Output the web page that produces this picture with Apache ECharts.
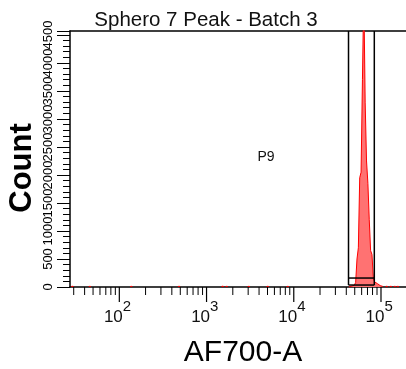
<!DOCTYPE html>
<html><head><meta charset="utf-8">
<script src="https://cdn.jsdelivr.net/npm/echarts@6/dist/echarts.min.js"></script>
<style>html,body{margin:0;padding:0;background:#fff}#c{width:406px;height:369px}</style>
</head><body><div id="c"></div>
<script>
// ---- data ----
const titleText = 'Sphero 7 Peak - Batch 3';
const xTitle = 'AF700-A';
const yTitle = 'Count';
const gateName = 'P9';
// peak histogram bin edges (AF700-A) and counts
const binEdges = [42760,44330,45950,47630,49380,51190,53060,55010,57020,59110,61280,63520,65850,68260,70760,73360,76050,78830,81720,84710,87820,91040,94370,97830,101410,105130];
const binCounts = [10,15,20,30,45,80,500,700,1950,2050,3700,5300,3300,2250,1850,1200,650,580,150,90,60,40,25,15,10];
// scattered low-count events
const lowEventX = [28.5,45,135,475,1500,1670,2990,4930,8370,114000,127000,141000,153000];
const lowEventCounts = [3,2,2,3,4,2,2,3,2,3,3,2,2];
// x axis ticks
const xMajorTicks = [100,1000,10000,100000];
const xMajorExp = ['2','3','4','5'];
const xMinorTicks = [30,40,50,60,70,80,90,200,300,400,500,600,700,800,900,2000,3000,4000,5000,6000,7000,8000,9000,20000,30000,40000,50000,60000,70000,80000,90000];
// y axis
const yMin = 0, yMax = 4570, yStep = 500;
// gate P9
const gateLo = 42420, gateHi = 83800, gateBottom = 35, gateMid = 160;
const xMin = 27.2, xMax = 193500;

const binRatio = 1.0366;
const FONT = '"Liberation Sans", Arial, sans-serif';

// step outline points for the peak
const peakPts = [[binEdges[0], 0]];
for (let i = 0; i < binCounts.length; i++) peakPts.push([binEdges[i], binCounts[i]]);
peakPts.push([binEdges[binEdges.length - 1], binCounts[binCounts.length - 1]]);
peakPts.push([binEdges[binEdges.length - 1], 0]);

const lowBins = lowEventX.map((x, i) => [x, x * binRatio, lowEventCounts[i]]);

const axisBase = {
  type: 'log', min: xMin, max: xMax, logBase: 10,
  axisTick: {show: false}, axisLabel: {show: false}, splitLine: {show: false}, minorTick: {show: false}
};

const chart = echarts.init(document.getElementById('c'), null, {renderer: 'canvas'});
chart.setOption({
  animation: false,
  backgroundColor: '#fff',
  grid: {left: 70, top: 31, bottom: 82, right: 0, show: false},
  xAxis: [
    Object.assign({}, axisBase, {position: 'bottom', axisLine: {show: true, lineStyle: {color: '#000', width: 1.5}}}),
    Object.assign({}, axisBase, {position: 'top', axisLine: {show: true, lineStyle: {color: '#000', width: 1.5}}})
  ],
  yAxis: {
    type: 'value', min: yMin, max: yMax, interval: yStep,
    axisLine: {show: true, lineStyle: {color: '#000', width: 1.5}},
    axisTick: {show: true, length: 13, lineStyle: {color: '#000', width: 1}},
    minorTick: {show: true, splitNumber: 5, length: 7, lineStyle: {color: '#000', width: 1}},
    splitLine: {show: false}, minorSplitLine: {show: false},
    axisLabel: {show: true, rotate: 90, margin: 15, fontSize: 13, fontFamily: FONT, color: '#000',
      formatter: v => (v % yStep === 0 ? String(v) : '')}
  },
  series: [
    {
      type: 'line', step: 'end', clip: true, z: 3,
      data: peakPts, symbol: 'none',
      lineStyle: {color: '#ff0000', width: 1},
      areaStyle: {color: '#ff7272', opacity: 1}
    },
    {
      type: 'custom', clip: true, z: 3,
      data: lowBins,
      encode: {x: [0, 1], y: 2},
      renderItem(params, api) {
        const p0 = api.coord([api.value(0), 0]);
        const p1 = api.coord([api.value(1), api.value(2)]);
        return {type: 'rect', shape: {x: p0[0], y: p1[1] - 0.5, width: p1[0] - p0[0], height: p0[1] - p1[1] + 0.5},
          style: {fill: '#ff0000', stroke: '#ff0000', lineWidth: 1}};
      }
    },
    {
      type: 'custom', clip: false, z: 4,
      data: [[gateLo, gateHi]],
      encode: {x: [0, 1]},
      renderItem(params, api) {
        const a = api.coord([api.value(0), gateBottom]);
        const b = api.coord([api.value(1), yMax]);
        const m = api.coord([api.value(0), gateMid]);
        const ls = {stroke: '#000', lineWidth: 1.5};
        return {type: 'group', children: [
          {type: 'line', shape: {x1: a[0], y1: a[1], x2: a[0], y2: b[1]}, style: ls},
          {type: 'line', shape: {x1: b[0], y1: a[1], x2: b[0], y2: b[1]}, style: ls},
          {type: 'line', shape: {x1: a[0], y1: a[1], x2: b[0], y2: a[1]}, style: ls},
          {type: 'line', shape: {x1: a[0], y1: m[1], x2: b[0], y2: m[1]}, style: ls}
        ]};
      }
    },
    {
      type: 'custom', clip: false, z: 5,
      data: xMinorTicks.map(v => [v, 0]),
      encode: {x: 0, y: 1},
      renderItem(params, api) {
        const p = api.coord([api.value(0), 0]);
        return {type: 'line', shape: {x1: p[0], y1: p[1], x2: p[0], y2: p[1] + 8}, style: {stroke: '#000', lineWidth: 1}};
      }
    },
    {
      type: 'custom', clip: false, z: 5,
      data: xMajorTicks.map((v, i) => [v, 0, i]),
      encode: {x: 0, y: 1},
      renderItem(params, api) {
        const p = api.coord([api.value(0), 0]);
        const i = api.value(2);
        return {type: 'group', children: [
          {type: 'line', shape: {x1: p[0], y1: p[1], x2: p[0], y2: p[1] + 15}, style: {stroke: '#000', lineWidth: 1.2}},
          {type: 'text', x: p[0] + 3.5, y: 317, style: {text: '10', font: '17px ' + FONT, fill: '#111', align: 'right', verticalAlign: 'middle'}},
          {type: 'text', x: p[0] + 3.5, y: 307, style: {text: xMajorExp[i], font: '15px ' + FONT, fill: '#111', align: 'left', verticalAlign: 'middle'}}
        ]};
      }
    }
  ],
  graphic: [
    {type: 'text', x: 206, y: 20, style: {text: titleText, font: '20.5px ' + FONT, fill: '#111', align: 'center', verticalAlign: 'middle'}},
    {type: 'text', x: 266, y: 157, style: {text: gateName, font: '14px ' + FONT, fill: '#111', align: 'center', verticalAlign: 'middle'}},
    {type: 'text', x: 22, y: 168, rotation: Math.PI / 2, style: {text: yTitle, font: 'bold 31px ' + FONT, fill: '#000', align: 'center', verticalAlign: 'middle'}},
    {type: 'text', x: 243, y: 353, style: {text: xTitle, font: '30px ' + FONT, fill: '#000', align: 'center', verticalAlign: 'middle'}}
  ]
});
</script></body></html>
